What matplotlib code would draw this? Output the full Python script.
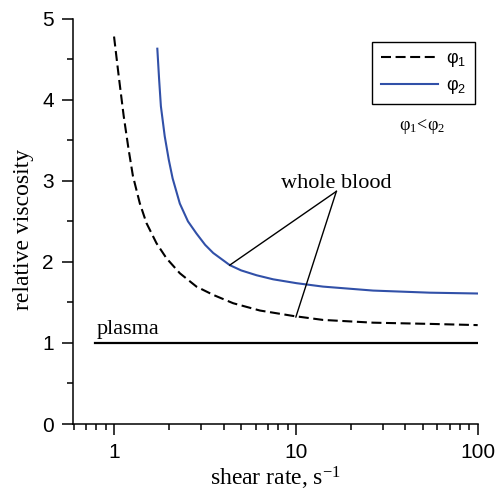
import matplotlib
matplotlib.use("Agg")
import matplotlib.pyplot as plt
from matplotlib.ticker import FixedLocator, NullFormatter, FixedFormatter

plt.rcParams["font.family"] = ["Liberation Sans", "DejaVu Sans"]
plt.rcParams["mathtext.fontset"] = "custom"
plt.rcParams["mathtext.rm"] = "Liberation Serif"
plt.rcParams["mathtext.it"] = "Liberation Serif:italic"
plt.rcParams["mathtext.sf"] = "Liberation Sans"

# Relative viscosity vs shear rate (log scale)
rate_phi1 = [1.0, 1.06, 1.13, 1.20, 1.27, 1.30, 1.385, 1.507, 1.712, 1.942, 2.30,
             2.84, 3.51, 4.52, 6.34, 9.66, 14.1, 26.6, 54.6, 100]
visc_phi1 = [4.78, 4.30, 3.80, 3.40, 3.06, 2.97, 2.725, 2.48, 2.23, 2.045, 1.86,
             1.695, 1.593, 1.49, 1.40, 1.333, 1.284, 1.25, 1.235, 1.22]

rate_phi2 = [1.73, 1.77, 1.81, 1.90, 2.00, 2.10, 2.30, 2.55, 2.84, 3.17, 3.51,
             4.33, 5.0, 6.08, 7.5, 10.1, 14.1, 26.6, 54.6, 100]
visc_phi2 = [4.63, 4.25, 3.92, 3.55, 3.26, 3.03, 2.72, 2.50, 2.35, 2.21, 2.11,
             1.96, 1.895, 1.835, 1.785, 1.737, 1.695, 1.646, 1.62, 1.61]

rate_plasma = [0.79, 100]
visc_plasma = [1.0, 1.0]

x_major = [1, 10, 100]
x_major_labels = ["1", "10", "100"]
x_minor = [0.6, 0.7, 0.8, 0.9, 2, 3, 4, 5, 6, 7, 8, 9, 20, 30, 40, 50, 60, 70, 80, 90]
y_major = [0, 1, 2, 3, 4, 5]
y_minor = [0.5, 1.5, 2.5, 3.5, 4.5]

# annotation: label anchor and the two curve points it points to
wb_apex = (16.7, 2.87)
wb_targets = [(4.33, 1.96), (10.0, 1.32)]

BLUE = "#3150a8"

fig = plt.figure(figsize=(4.99, 4.92), dpi=100)
ax = fig.add_axes([0.1469, 0.1382, 0.8104, 0.8238])

ax.plot(rate_phi1, visc_phi1, color="black", lw=1.5, linestyle=(0, (4.8, 2.2)),
        label=r"$\mathsf{φ_1}$")
ax.plot(rate_phi2, visc_phi2, color=BLUE, lw=1.5, label=r"$\mathsf{φ_2}$")
ax.plot(rate_plasma, visc_plasma, color="black", lw=1.6)

for tx, ty in wb_targets:
    ax.plot([wb_apex[0], tx], [wb_apex[1], ty], color="black", lw=1.0)

ax.set_xscale("log")
ax.set_xlim(0.597, 100)
ax.set_ylim(0, 5)

ax.xaxis.set_major_locator(FixedLocator(x_major))
ax.xaxis.set_major_formatter(FixedFormatter(x_major_labels))
ax.xaxis.set_minor_locator(FixedLocator(x_minor))
ax.xaxis.set_minor_formatter(NullFormatter())
ax.yaxis.set_major_locator(FixedLocator(y_major))
ax.yaxis.set_minor_locator(FixedLocator(y_minor))

for s in ("top", "right"):
    ax.spines[s].set_visible(False)
for s in ("left", "bottom"):
    ax.spines[s].set_linewidth(1.1)

ax.tick_params(which="major", direction="out", length=8, width=1.1, pad=6,
               labelsize=15)
ax.tick_params(which="minor", direction="out", length=4.5, width=1.1)

ax.set_xlabel(r"shear rate, s$^{-1}$", fontfamily="Liberation Serif", fontsize=17,
              labelpad=2)
ax.set_ylabel("relative viscosity", fontfamily="Liberation Serif", fontsize=17)
ax.yaxis.set_label_coords(-0.096, 0.48)

ax.text(16.75, 2.91, "whole blood", fontfamily="Liberation Serif", fontsize=16,
        ha="center", va="baseline")
ax.text(0.80, 1.11, "plasma", fontfamily="Liberation Serif", fontsize=16,
        ha="left", va="baseline")
ax.text(0.8635, 0.725, r"$\mathrm{φ_1\!<\!φ_2}$", transform=ax.transAxes,
        fontsize=13, ha="center", va="baseline")

leg = ax.legend(loc="upper right", bbox_to_anchor=(0.993, 0.943), fontsize=13,
                handlelength=3.2, handletextpad=0.45, labelspacing=0.45,
                borderpad=0.45, borderaxespad=0.0, fancybox=False,
                edgecolor="black", framealpha=1)
leg.get_frame().set_linewidth(1.0)

fig.savefig("out.png", dpi=100)
